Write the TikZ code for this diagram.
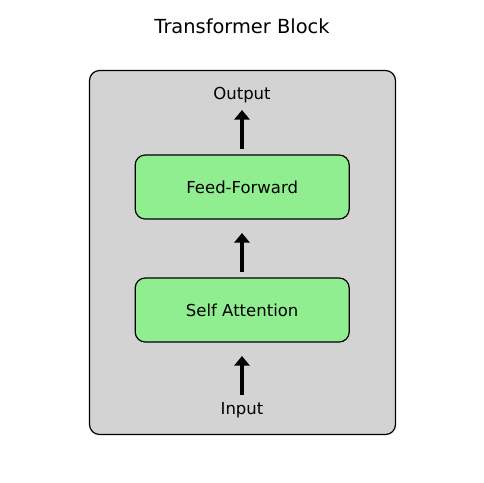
\documentclass[tikz,border=0pt]{standalone}
\usepackage{fontspec}
\setmainfont{DejaVu Sans}
\usetikzlibrary{arrows.meta}
\definecolor{lgray}{HTML}{D3D3D3}
\definecolor{lgreen}{HTML}{90EE90}
\begin{document}
\begin{tikzpicture}[x=1pt,y=-1pt,
  outerbox/.style={draw=black,fill=lgray,line width=1.2pt,rounded corners=10pt},
  layerbox/.style={draw=black,fill=lgreen,line width=1.2pt,rounded corners=10pt,minimum width=214pt,minimum height=64pt,font=\fontsize{16.5}{18}\selectfont},
  lbl/.style={font=\fontsize{16.5}{18}\selectfont},
  flow/.style={line width=4.8pt,-{Triangle[width=15pt,length=9.5pt]}}]
\useasboundingbox (0,0) rectangle (484,482);
\node[font=\fontsize{19.4}{22}\selectfont] (title) at (242,26) {Transformer Block};
\draw[outerbox] (89.5,70.5) rectangle (395.5,434.5);
\node[layerbox] (ff) at (242.2,187) {Feed-Forward};
\node[layerbox] (sa) at (242.2,310) {Self Attention};
\node[lbl] (out) at (242,95.5) {Output};
\node[lbl] (in) at (242,410.5) {Input};
\coordinate (a1s) at (242,395); \coordinate (a1e) at (242,356);
\coordinate (a2s) at (242,272); \coordinate (a2e) at (242,233);
\coordinate (a3s) at (242,149); \coordinate (a3e) at (242,110);
\draw[flow] (a1s) -- (a1e);
\draw[flow] (a2s) -- (a2e);
\draw[flow] (a3s) -- (a3e);
\end{tikzpicture}
\end{document}
